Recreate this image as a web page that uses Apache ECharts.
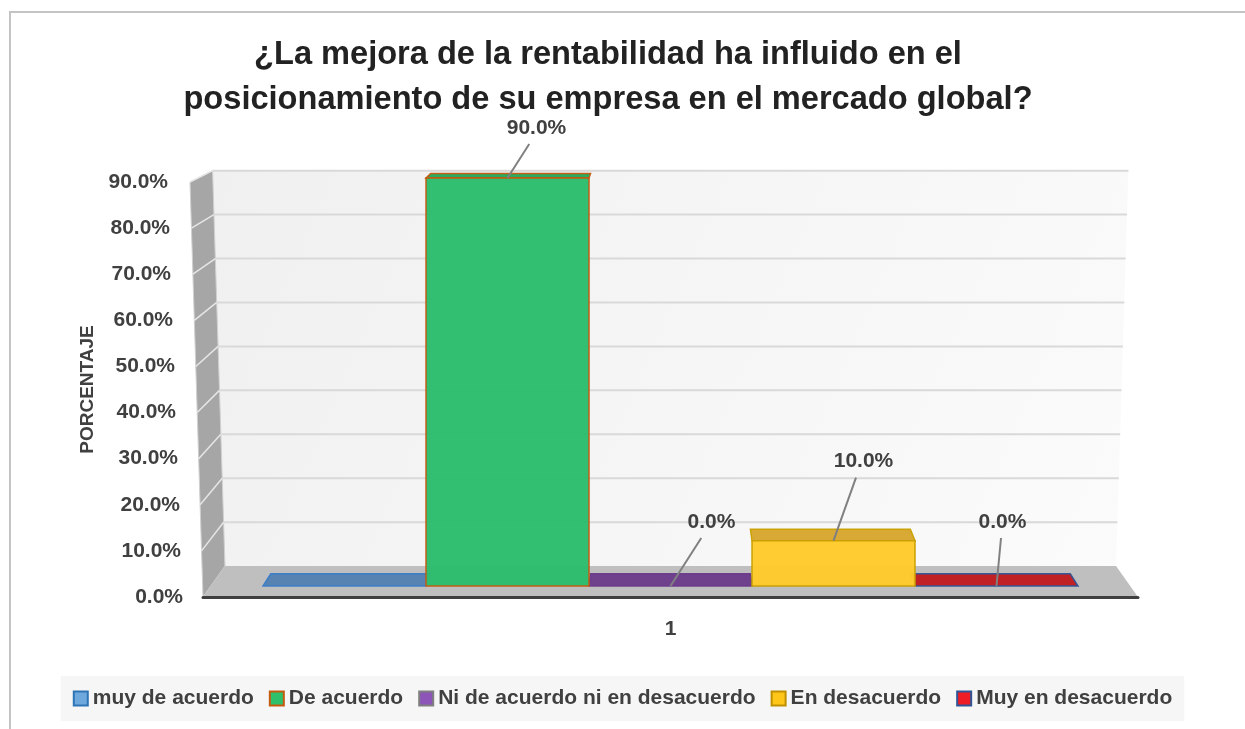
<!DOCTYPE html>
<html>
<head>
<meta charset="utf-8">
<script src="https://cdn.jsdelivr.net/npm/echarts@6/dist/echarts.min.js"></script>
<style>
html,body{margin:0;padding:0;background:#fff;}
#chart{width:1245px;height:729px;}
</style>
</head>
<body>
<div id="chart"></div>
<script>
// ---- data ----
const titleText = '¿La mejora de la rentabilidad ha influido en el\nposicionamiento de su empresa en el mercado global?';
const categories = ['1'];
const seriesNames = ['muy de acuerdo', 'De acuerdo', 'Ni de acuerdo ni en desacuerdo', 'En desacuerdo', 'Muy en desacuerdo'];
const seriesValues = [0, 90, 0, 10, 0];
const yTicks = [0, 10, 20, 30, 40, 50, 60, 70, 80, 90];
const yAxisName = 'PORCENTAJE';

// ---- styles ----
const FONT = "'Liberation Sans', Arial, sans-serif";
const TXT = '#404040';
const frontColor = ['#5b8cc4', '#2cbd6c', '#7a4a9e', '#ffca2a', '#c8191f'];
const topColor = ['#5080b0', '#1fa657', '#6a3a8a', '#d6a52a', '#c0181c'];
const barBorder = ['#3a7dc9', '#c55a11', '#6a3a8a', '#c9a000', '#2f5597'];
const legendFill = ['#6fa8dc', '#2ec06a', '#8e55b8', '#ffc61a', '#ee1c24'];
const legendBorder = ['#2e75b6', '#c55a11', '#7f7f7f', '#bf9000', '#2f5597'];
// label offsets (px) relative to each bar's front-top centre; null = no label
const labelOffsets = [null, [29, -50], [41, -64], [30, -79], [6, -64]];

// perspective
const VP = [670.5, -60];
const K_WALL = 0.953;   // back wall depth factor
const K_BAR = 0.981;    // bar depth factor
const SLANT = 13;       // front-left edge slant

const FRONT_L = 203, FRONT_R = 1138, FRONT_T = 182, FRONT_B = 597;
const BAR_L = 263, BAR_R = 1078, BAR_T = 178, BAR_B = 586;
const W = 1245, H = 729;

function persp(p, k) {
  return [VP[0] + (p[0] - VP[0]) * k, VP[1] + (p[1] - VP[1]) * k];
}

const chart = echarts.init(document.getElementById('chart'), null, {renderer: 'canvas'});

const rich = {};
yTicks.forEach(v => {
  rich['t' + v] = {
    padding: [0, Math.round(v / 90 * 15), 0, 0],
    fontSize: 21, fontWeight: 'bold', color: TXT, fontFamily: FONT
  };
});

function makeRender(i) {
  return function (params, api) {
    const v = api.value(1);
    const base = api.coord([api.value(0), 0]);
    const top = api.coord([api.value(0), v]);
    const band = api.size([1, 0])[0];
    const n = seriesNames.length;
    const w = band / n;
    const x0 = base[0] - band / 2 + i * w;
    const x1 = x0 + w;
    const yb = base[1], yt = top[1];
    const children = [];
    // top face
    children.push({
      type: 'polygon',
      shape: {points: [[x0, yt], [x1, yt], persp([x1, yt], K_BAR), persp([x0, yt], K_BAR)]},
      style: {fill: topColor[i], stroke: barBorder[i], lineWidth: 1.5, opacity: 0.95}
    });
    if (v > 0) {
      children.push({
        type: 'rect',
        shape: {x: x0, y: yt, width: w, height: yb - yt},
        style: {fill: frontColor[i], stroke: barBorder[i], lineWidth: 1.5, opacity: 0.97}
      });
    }
    const off = labelOffsets[i];
    if (off) {
      const cx = (x0 + x1) / 2;
      const lx = cx + off[0], ly = yt + off[1];
      children.push({
        type: 'line',
        shape: {x1: lx + (cx - lx) * 0.25, y1: ly + 16, x2: cx, y2: yt},
        style: {stroke: '#808080', lineWidth: 2}
      });
      children.push({
        type: 'text',
        style: {
          text: v.toFixed(1) + '%', x: lx, y: ly,
          align: 'center', verticalAlign: 'middle',
          fontSize: 21, fontWeight: 'bold', fontFamily: FONT, fill: TXT
        }
      });
    }
    return {type: 'group', children: children};
  };
}

const option = {
  backgroundColor: '#ffffff',
  animation: false,
  title: {
    text: titleText,
    left: 608, top: 33, padding: 0,
    textAlign: 'center',
    textStyle: {fontSize: 32.6, fontWeight: 'bold', color: '#222222', fontFamily: FONT, lineHeight: 45}
  },
  legend: {
    data: seriesNames.map((name, i) => ({
      name: name,
      itemStyle: {color: legendFill[i], borderColor: legendBorder[i], borderWidth: 2}
    })),
    left: 'center', top: 676,
    padding: [12, 12],
    backgroundColor: '#f6f6f6',
    icon: 'rect', itemWidth: 14, itemHeight: 14, itemGap: 15,
    selectedMode: false,
    textStyle: {fontSize: 21, fontWeight: 'bold', color: TXT, fontFamily: FONT}
  },
  grid: [
    {left: FRONT_L, right: W - FRONT_R, top: FRONT_T, bottom: H - FRONT_B},
    {left: BAR_L, right: W - BAR_R, top: BAR_T, bottom: H - BAR_B}
  ],
  xAxis: [
    {
      type: 'category', gridIndex: 0, data: categories,
      axisLine: {show: true, lineStyle: {color: '#3f3f3f', width: 3}},
      axisTick: {show: false},
      axisLabel: {margin: 22, fontSize: 21, fontWeight: 'bold', color: TXT, fontFamily: FONT},
      splitLine: {show: false}
    },
    {
      type: 'category', gridIndex: 1, data: categories,
      boundaryGap: true, show: false
    }
  ],
  yAxis: [
    {
      type: 'value', gridIndex: 0, min: 0, max: 90, interval: 10,
      name: yAxisName, nameLocation: 'middle', nameGap: 104,
      nameTextStyle: {fontSize: 19, fontWeight: 'bold', color: TXT, fontFamily: FONT},
      axisLine: {show: false}, axisTick: {show: false}, splitLine: {show: false},
      axisLabel: {
        margin: 20,
        formatter: v => '{t' + v + '|' + v.toFixed(1) + '%}',
        rich: rich
      }
    },
    {
      type: 'value', gridIndex: 1, min: 0, max: 90, interval: 10, show: false
    }
  ],
  series: seriesNames.map((name, i) => ({
    type: 'custom',
    name: name,
    coordinateSystem: 'cartesian2d',
    xAxisIndex: 1, yAxisIndex: 1,
    z: seriesValues[i] > 0 ? 4 : 3,
    itemStyle: {color: legendFill[i], borderColor: legendBorder[i], borderWidth: 2},
    encode: {x: 0, y: 1},
    data: [[categories[0], seriesValues[i]]],
    renderItem: makeRender(i)
  }))
};

chart.setOption(option);

// decorative 3D walls & floor derived from the front value axis
function buildDecor() {
  const yPix = v => chart.convertToPixel({yAxisIndex: 0}, v);
  const y0 = yPix(0), yTop = yPix(90);
  const xL = v => FRONT_L - SLANT * (yPix(v) - y0) / (yTop - y0);
  const xR = v => FRONT_R + SLANT * (yPix(v) - y0) / (yTop - y0);
  const g = [];
  g.push({
    type: 'rect', z: 100, silent: true,
    shape: {x: 10, y: 12, width: 1400, height: 900},
    style: {fill: 'none', stroke: '#c4c4c4', lineWidth: 2}
  });
  const ftl = [xL(90), yTop], fbl = [xL(0), y0], fbr = [xR(0), y0], ftr = [xR(90), yTop];
  // back wall
  g.push({
    type: 'polygon', z: -10, silent: true,
    shape: {points: [persp(ftl, K_WALL), persp(ftr, K_WALL), persp(fbr, K_WALL), persp(fbl, K_WALL)]},
    style: {fill: new echarts.graphic.LinearGradient(0, 0, 1, 1, [
      {offset: 0, color: '#f0f0f0'}, {offset: 1, color: '#fbfbfb'}])}
  });
  // side wall
  g.push({
    type: 'polygon', z: -9, silent: true,
    shape: {points: [ftl, persp(ftl, K_WALL), persp(fbl, K_WALL), fbl]},
    style: {fill: '#a6a6a6', stroke: '#d0d0d0', lineWidth: 1}
  });
  // floor
  g.push({
    type: 'polygon', z: -9, silent: true,
    shape: {points: [fbl, fbr, persp(fbr, K_WALL), persp(fbl, K_WALL)]},
    style: {fill: '#bfbfbf'}
  });
  // gridlines
  yTicks.forEach(v => {
    const fl = [xL(v), yPix(v)], fr = [xR(v), yPix(v)];
    const bl = persp(fl, K_WALL), br = persp(fr, K_WALL);
    if (v > 0) {
      g.push({
        type: 'line', z: -8, silent: true,
        shape: {x1: bl[0], y1: bl[1], x2: br[0], y2: br[1]},
        style: {stroke: '#d9d9d9', lineWidth: 2}
      });
      g.push({
        type: 'line', z: -8, silent: true,
        shape: {x1: fl[0], y1: fl[1], x2: bl[0], y2: bl[1]},
        style: {stroke: '#e6e6e6', lineWidth: 1.5}
      });
    }
  });
  chart.setOption({graphic: g});
}
buildDecor();
</script>
</body>
</html>
